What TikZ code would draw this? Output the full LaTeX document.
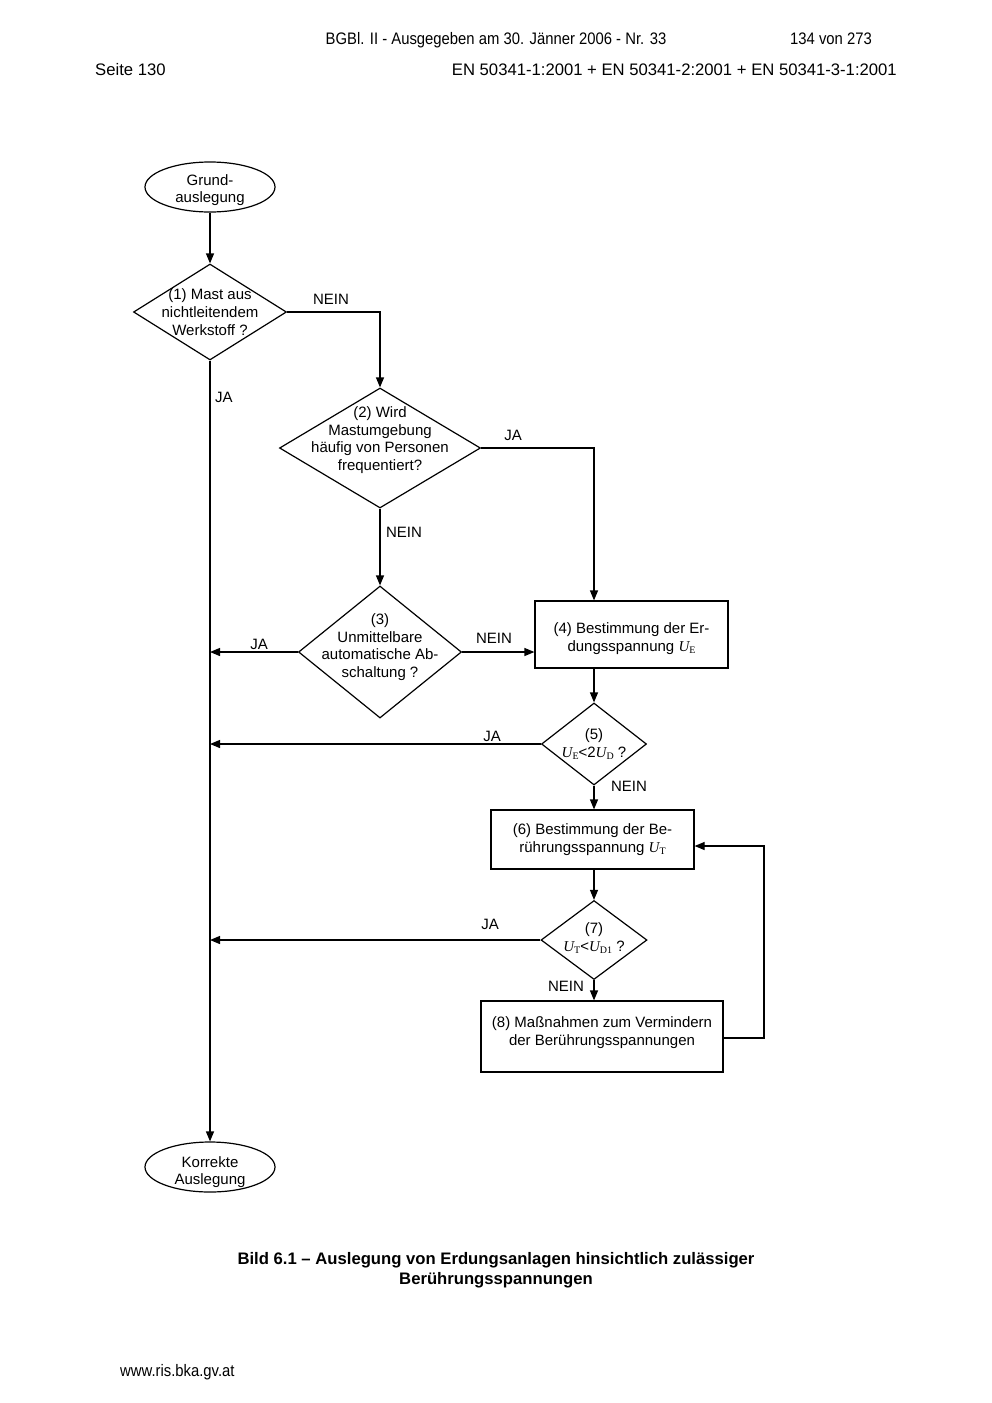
\documentclass[tikz,border=0pt]{standalone}
\usepackage{fontspec}
\setmainfont{Liberation Sans}
\newfontfamily\narrowfont[FakeStretch=0.89]{Liberation Sans}
\newfontfamily\timesfont{Liberation Serif}
\usetikzlibrary{shapes.geometric,arrows.meta}
\newcommand\volt[1]{{\timesfont\itshape U}\raisebox{-0.3ex}{\timesfont\fontsize{10}{10}\selectfont #1}}
\tikzset{
	txt/.style={font=\fontsize{15}{17.7}\selectfont, align=center, inner sep=0pt},
	pagetxt/.style={font=\fontsize{16.67}{20}\selectfont, inner sep=0pt, anchor=base},
	terminal/.style={ellipse, draw, line width=1.2pt, minimum width=130, minimum height=50, inner sep=0pt},
	decide/.style={diamond, draw, line width=1.2pt, inner sep=0pt},
	stepbox/.style={rectangle, draw, line width=1.2pt, txt},
	flow/.style={line width=1.2pt, -{Triangle[length=10pt,width=8pt]}}
}
\begin{document}
\begin{tikzpicture}[x=1pt,y=-1pt]
	\useasboundingbox (0,0) rectangle (992,1403);
	% page head and foot
	\node[pagetxt, font=\narrowfont\fontsize{16.67}{20}\selectfont] (head) at (496,44) {BGBl. II - Ausgegeben am 30. J\"anner 2006 - Nr. 33};
	\node[pagetxt, anchor=base west, font=\narrowfont\fontsize{16.67}{20}\selectfont] (pagenr) at (790,44) {134 von 273};
	\node[pagetxt, anchor=base west] (seite) at (95,75) {Seite 130};
	\node[pagetxt, anchor=base east] (norm) at (897,75) {EN 50341-1:2001 + EN 50341-2:2001 + EN 50341-3-1:2001};
	\node[pagetxt, anchor=base west, font=\narrowfont\fontsize{16.67}{20}\selectfont] (url) at (120,1376) {www.ris.bka.gv.at};
	\node[font=\bfseries\fontsize{16.67}{20}\selectfont, align=center, inner sep=0pt] (caption) at (496,1270) {Bild 6.1 -- Auslegung von Erdungsanlagen hinsichtlich zul\"assiger\\Ber\"uhrungsspannungen};

	% flow chart
	\node[terminal, label={[txt,yshift=-3pt]center:{Grund-\\auslegung}}] (start) at (210,187) {};
	\node[decide, minimum width=153, minimum height=96, label={[txt]center:{(1) Mast aus\\nichtleitendem\\Werkstoff ?}}] (d1) at (210,312) {};
	\node[decide, minimum width=201, minimum height=120, label={[txt,yshift=8pt]center:{(2) Wird\\Mastumgebung\\h\"aufig von Personen\\frequentiert?}}] (d2) at (380,448) {};
	\node[decide, minimum width=163, minimum height=132, label={[txt,yshift=5pt]center:{(3)\\Unmittelbare\\automatische Ab-\\schaltung ?}}] (d3) at (380,652) {};
	\node[stepbox, minimum width=193, minimum height=67, label={[txt,yshift=-4pt]center:{(4) Bestimmung der Er-\\dungsspannung \volt{E}}}] (b4) at (631.5,634.5) {};
	\node[decide, minimum width=105, minimum height=82, label={[txt]center:{(5)\\\volt{E}<2\volt{D} ?}}] (d5) at (594,744) {};
	\node[stepbox, minimum width=203, minimum height=59] (b6) at (592.5,839.5) {(6) Bestimmung der Be-\\r\"uhrungsspannung \volt{T}};
	\node[decide, minimum width=106, minimum height=79, label={[txt,yshift=2pt]center:{(7)\\\volt{T}<\volt{D1} ?}}] (d7) at (594,940) {};
	\node[stepbox, minimum width=242, minimum height=71, label={[txt,yshift=4pt]center:{(8) Ma\ss nahmen zum Vermindern\\der Ber\"uhrungsspannungen}}] (b8) at (602,1036.5) {};
	\node[terminal, label={[txt,yshift=-5pt]center:{Korrekte\\Auslegung}}] (finish) at (210,1167) {};
	\coordinate (back) at (764,1038);

	% answers
	\node[txt] (nein1) at (331,299) {NEIN};
	\node[txt] (ja1) at (224,397) {JA};
	\node[txt] (ja2) at (513,435) {JA};
	\node[txt] (nein2) at (404,532) {NEIN};
	\node[txt] (ja3) at (259,644) {JA};
	\node[txt] (nein3) at (494,638) {NEIN};
	\node[txt] (ja5) at (492,736) {JA};
	\node[txt] (nein5) at (629,786) {NEIN};
	\node[txt] (ja7) at (490,924) {JA};
	\node[txt] (nein7) at (566,986) {NEIN};

	% connectors
	\draw[flow] (start) -- (d1.north);
	\draw[flow] (d1.south) -- (finish.north);
	\draw[flow] (d1.east) -| (d2.north);
	\draw[flow] (d2.east) -| (b4.north -| d5);
	\draw[flow] (d2.south) -- (d3.north);
	\draw[flow] (d3.west) -- (d3.west -| d1);
	\draw[flow] (d3.east) -- (d3.east -| b4.west);
	\draw[flow] (b4.south -| d5) -- (d5.north);
	\draw[flow] (d5.west) -- (d5.west -| d1);
	\draw[flow] (d5.south) -- (b6.north -| d5);
	\draw[flow] (b6.south -| d7) -- (d7.north);
	\draw[flow] (d7.west) -- (d7.west -| d1);
	\draw[flow] (d7.south) -- (b8.north -| d7);
	\draw[flow] (b8.east |- back) -- (back) |- ([yshift=-6.5pt]b6.east);
\end{tikzpicture}
\end{document}
